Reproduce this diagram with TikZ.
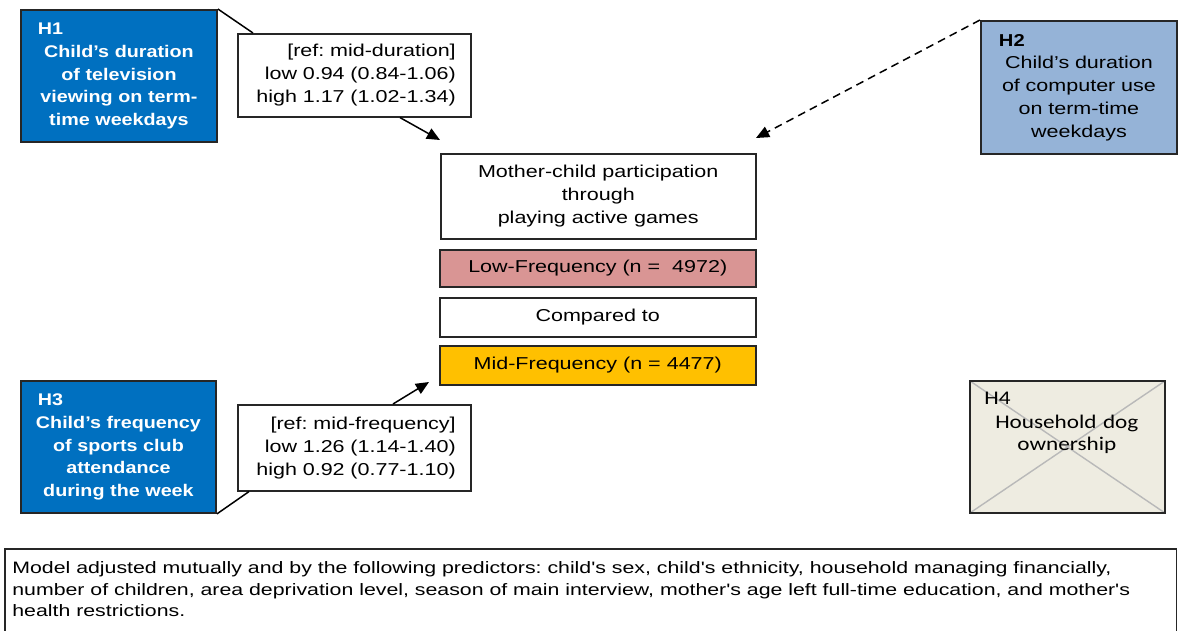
\documentclass[tikz,border=0pt]{standalone}
\usepackage{fontspec}
\setmainfont{Liberation Sans}[FakeStretch=1.25, BoldFeatures={FakeStretch=1.17}]
\newfontfamily\notefont{Liberation Sans}[FakeStretch=1.29]
\newfontfamily\hfourfont{Carlito}[FakeStretch=1.2]
\usetikzlibrary{arrows.meta,calc}
\frenchspacing

\definecolor{hyblue}{HTML}{0070C0}
\definecolor{hyltblue}{HTML}{95B3D7}
\definecolor{lowred}{HTML}{D99594}
\definecolor{midyellow}{HTML}{FFC000}
\definecolor{beige}{HTML}{EEECE1}
\definecolor{edge}{HTML}{262626}

\begin{document}
\begin{tikzpicture}[x=0.02cm,y=-0.02cm,
  box/.style={draw=edge, line width=0.9pt, inner sep=0pt, anchor=north west,
    font=\fontsize{9.8}{13}\selectfont},
  hypbox/.style={box, line width=1.1pt, inner xsep=0.1cm, align=center},
  hyptext/.style={font=\bfseries\fontsize{9.6}{13}\selectfont, text=white},
  refbox/.style={box, inner xsep=0.3cm, text width=4.06cm, minimum width=4.66cm,
    minimum height=1.66cm, align=right},
  bar/.style={box, minimum width=6.32cm, align=center},
  conn/.style={draw=black, line width=0.85pt},
  arr/.style={conn, -{Triangle[length=7.5pt,width=6.5pt]}},
]
\useasboundingbox (0,0) rectangle (1181,630);
\clip (0,0) rectangle (1181,630);

% hypothesis H1
\node[hypbox, hyptext, fill=hyblue, minimum width=3.92cm, minimum height=2.64cm,
  text width=3.72cm] (h1) at (20,9)
  {\makebox[\linewidth][l]{\hspace{0.24cm}H1}\\Child’s duration\\of television\\viewing on term-\\time weekdays};
\node[refbox] (r1) at (237,33)
  {[ref: mid-duration]\\low 0.94 (0.84-1.06)\\high 1.17 (1.02-1.34)};

% hypothesis H2
\node[hypbox, fill=hyltblue, minimum width=3.92cm, minimum height=2.66cm,
  text width=3.72cm] (h2) at (980,20)
  {\makebox[\linewidth][l]{\hspace{0.26cm}\bfseries H2}\\Child’s duration\\of computer use\\on term-time\\weekdays};

% hypothesis H3
\node[hypbox, hyptext, fill=hyblue, minimum width=3.9cm, minimum height=2.64cm,
  text width=3.7cm] (h3) at (20,380)
  {\makebox[\linewidth][l]{\hspace{0.24cm}H3}\\Child’s frequency\\of sports club\\attendance\\during the week};
\node[refbox, minimum height=1.72cm] (r3) at (237,404)
  {[ref: mid-frequency]\\low 1.26 (1.14-1.40)\\high 0.92 (0.77-1.10)};

% hypothesis H4 (crossed out)
\node[box, fill=beige, line width=1.1pt, minimum width=3.9cm, minimum height=2.64cm,
  path picture={\draw[gray!55, line width=0.8pt]
    (path picture bounding box.north west) -- (path picture bounding box.south east)
    (path picture bounding box.north east) -- (path picture bounding box.south west);}]
  (h4) at (969,380) {};
\node[anchor=north west, inner sep=0pt, align=center, text width=3.3cm,
  font=\hfourfont\fontsize{11}{12.5}\selectfont] (h4t) at (984,392)
  {\makebox[\linewidth][l]{H4}\\[1pt]Household dog\\ownership};

% outcome and its categories
\node[bar, minimum width=6.3cm, minimum height=1.7cm] (out) at (440,153)
  {Mother-child participation\\through\\playing active games};
\node[bar, fill=lowred, minimum height=0.74cm] (low) at (439,249)
  {Low-Frequency (n =~\ 4972)};
\node[bar, minimum height=0.78cm] (cmp) at (439,297) {Compared to};
\node[bar, fill=midyellow, minimum height=0.78cm] (mid) at (439,345)
  {Mid-Frequency (n = 4477)};

% note on model adjustment
\node[box, minimum width=23.44cm, minimum height=2cm] (note) at (4,548) {};
\node[anchor=north west, inner sep=0pt, align=left,
  font=\notefont\fontsize{9.4}{12.4}\selectfont] (notet) at (12,561)
  {Model adjusted mutually and by the following predictors: child's sex, child's ethnicity, household managing financially,\\
   number of children, area deprivation level, season of main interview, mother's age left full-time education, and mother's\\
   health restrictions.};

% connectors
\coordinate (tip1) at (440,140);
\coordinate (tip2) at (756,138);
\coordinate (tip3) at (429,382);
\draw[conn] (h1.north east) -- ($(r1.north west)+(16,0)$);
\draw[arr] ($(r1.south west)+(163,0)$) -- (tip1);
\draw[arr, dash pattern=on 4.5pt off 3pt] (h2.north west) -- (tip2);
\draw[conn] (h3.south east) -- ($(r3.south west)+(12,0)$);
\draw[arr] ($(r3.north west)+(156,0)$) -- (tip3);
\end{tikzpicture}
\end{document}
